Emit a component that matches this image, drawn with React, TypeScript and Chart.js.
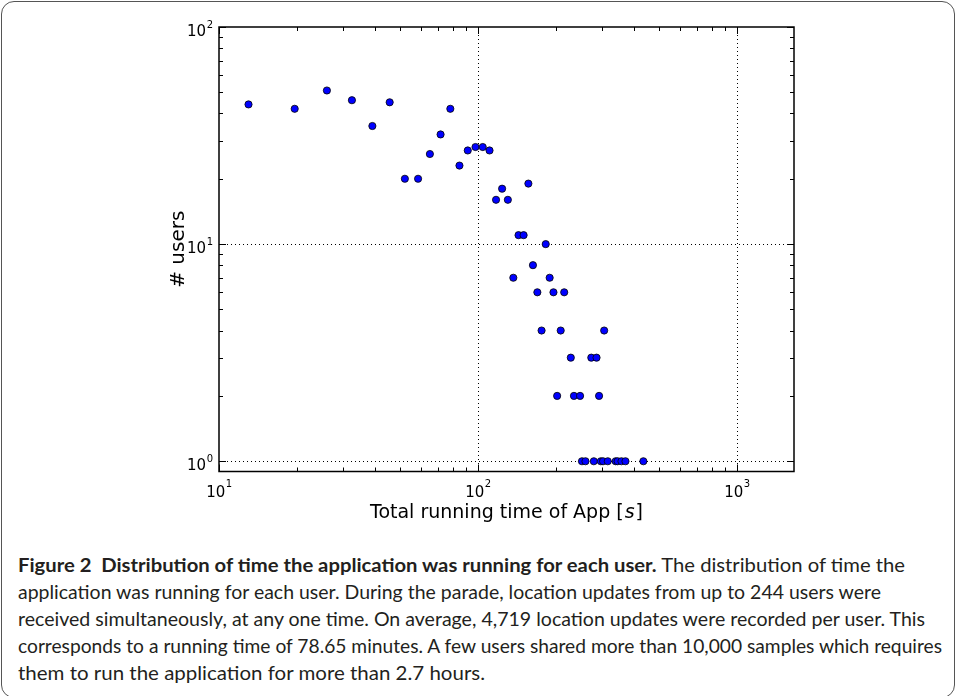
import React, { useEffect, useLayoutEffect, useRef } from "react";
import { Chart, registerables } from "chart.js";

Chart.register(...registerables);

// ---- data ----
const runningTime = [
  13.0, 19.6, 26.1, 32.6, 39.1, 45.6, 52.2, 58.7, 65.2, 71.7,
  78.2, 84.8, 91.3, 97.8, 104.3, 110.8, 117.4, 123.9, 130.4, 136.9,
  143.4, 150.0, 156.5, 163.0, 169.5, 176.0, 182.6, 189.1, 195.6, 202.1,
  208.6, 215.2, 228.2, 234.7, 247.8, 252.0, 260.0, 273.8, 280.0, 286.9,
  293.4, 298.0, 304.0, 307.0, 317.0, 340.0, 346.0, 358.0, 371.0, 435.0,
];
const userCounts = [
  44, 42, 51, 46, 35, 45, 20, 20, 26, 32,
  42, 23, 27, 28, 28, 27, 16, 18, 16, 7,
  11, 11, 19, 8, 6, 4, 10, 7, 6, 2,
  4, 6, 3, 2, 2, 1, 1, 3, 1, 3,
  2, 1, 1, 4, 1, 1, 1, 1, 1, 1,
];
const xTickValues = [10, 100, 1000];
const xTickLabels = ["10^1", "10^2", "10^3"];
const yTickValues = [1, 10, 100];
const yTickLabels = ["10^0", "10^1", "10^2"];
const xRange = [10, 1660];
const yRange = [0.897, 100];
const xTitle = "Total running time of App ";
const xTitleMath = "s";
const yTitle = "# users";

const captionBold = "Figure 2  Distribution of time the application was running for each user.";
const captionLines = [
  " The distribution of time the",
  "application was running for each user. During the parade, location updates from up to 244 users were",
  "received simultaneously, at any one time. On average, 4,719 location updates were recorded per user. This",
  "corresponds to a running time of 78.65 minutes. A few users shared more than 10,000 samples which requires",
  "them to run the application for more than 2.7 hours.",
];
// measured line widths in the reference (px)
const captionWidths = [887, 863, 907, 924, 467];

const CANVAS_W = 956;
const CANVAS_H = 540;
const FONT = '"DejaVu Sans", sans-serif';

function logTicks(min: number, max: number) {
  const out: { v: number; major: boolean }[] = [];
  for (let e = Math.floor(Math.log10(min)); e <= Math.ceil(Math.log10(max)); e++) {
    for (let m = 1; m < 10; m++) {
      const v = m * Math.pow(10, e);
      if (v >= min * 0.9999 && v <= max * 1.0001) out.push({ v, major: m === 1 });
    }
  }
  return out;
}

const mplAxes = {
  id: "mplAxes",
  beforeDatasetsDraw(chart: any) {
    const { ctx, chartArea: a, scales } = chart;
    ctx.save();
    ctx.strokeStyle = "#000";
    ctx.lineWidth = 1;
    ctx.setLineDash([1, 3]);
    for (const v of xTickValues) {
      const p = Math.round(scales.x.getPixelForValue(v)) + 0.5;
      if (p <= a.left + 1 || p >= a.right - 1) continue;
      ctx.beginPath();
      ctx.moveTo(p, a.top);
      ctx.lineTo(p, a.bottom);
      ctx.stroke();
    }
    for (const v of yTickValues) {
      const p = Math.round(scales.y.getPixelForValue(v)) + 0.5;
      if (p <= a.top + 1 || p >= a.bottom - 1) continue;
      ctx.beginPath();
      ctx.moveTo(a.left, p);
      ctx.lineTo(a.right, p);
      ctx.stroke();
    }
    ctx.restore();
  },
  afterDatasetsDraw(chart: any) {
    const { ctx, chartArea: a, scales } = chart;
    ctx.save();
    ctx.setLineDash([]);
    ctx.strokeStyle = "#000";
    ctx.lineWidth = 1;
    for (const t of logTicks(xRange[0], xRange[1])) {
      const p = Math.round(scales.x.getPixelForValue(t.v)) + 0.5;
      const len = t.major ? 7 : 4;
      ctx.beginPath();
      ctx.moveTo(p, a.bottom);
      ctx.lineTo(p, a.bottom - len);
      ctx.moveTo(p, a.top);
      ctx.lineTo(p, a.top + len);
      ctx.stroke();
    }
    for (const t of logTicks(yRange[0], yRange[1])) {
      const p = Math.round(scales.y.getPixelForValue(t.v)) + 0.5;
      const len = t.major ? 7 : 4;
      ctx.beginPath();
      ctx.moveTo(a.left, p);
      ctx.lineTo(a.left + len, p);
      ctx.moveTo(a.right, p);
      ctx.lineTo(a.right - len, p);
      ctx.stroke();
    }
    ctx.lineWidth = 1.5;
    ctx.strokeRect(a.left, a.top, a.right - a.left, a.bottom - a.top);

    ctx.fillStyle = "#000";
    const baseFont = `15px ${FONT}`;
    const expFont = `10px ${FONT}`;
    ctx.textBaseline = "alphabetic";
    xTickValues.forEach((v, i) => {
      const [b, e] = xTickLabels[i].split("^");
      const p = scales.x.getPixelForValue(v);
      ctx.font = baseFont;
      const bw = ctx.measureText(b).width;
      ctx.font = expFont;
      const ew = ctx.measureText(e).width;
      const x0 = p - (bw + ew) / 2;
      ctx.textAlign = "left";
      ctx.font = baseFont;
      ctx.fillText(b, x0, a.bottom + 25);
      ctx.font = expFont;
      ctx.fillText(e, x0 + bw + 0.5, a.bottom + 15);
    });
    yTickValues.forEach((v, i) => {
      const [b, e] = yTickLabels[i].split("^");
      const p = scales.y.getPixelForValue(v);
      ctx.font = expFont;
      const ew = ctx.measureText(e).width;
      const xr = a.left - 6;
      ctx.textAlign = "left";
      ctx.fillText(e, xr - ew, p + 1);
      ctx.font = baseFont;
      const bw = ctx.measureText(b).width;
      ctx.fillText(b, xr - ew - 0.5 - bw, p + 8.5);
    });

    const tf = `19px ${FONT}`;
    const tfi = `italic 19px ${FONT}`;
    ctx.font = tf;
    const w1 = ctx.measureText(xTitle).width;
    const wb = ctx.measureText("[").width;
    const wc = ctx.measureText("]").width;
    ctx.font = tfi;
    const ws = ctx.measureText(xTitleMath).width;
    const total = w1 + wb + ws + wc + 2;
    let x = (a.left + a.right) / 2 - total / 2;
    const yb = a.bottom + 46;
    ctx.font = tf;
    ctx.fillText(xTitle, x, yb);
    x += w1;
    ctx.fillText("[", x, yb);
    x += wb + 1;
    ctx.font = tfi;
    ctx.fillText(xTitleMath, x, yb);
    x += ws + 1;
    ctx.font = tf;
    ctx.fillText("]", x, yb);

    ctx.save();
    ctx.translate(a.left - 35, (a.top + a.bottom) / 2);
    ctx.rotate(-Math.PI / 2);
    ctx.textAlign = "center";
    ctx.textBaseline = "alphabetic";
    ctx.font = `20px ${FONT}`;
    ctx.fillText(yTitle, 0, 0);
    ctx.restore();

    ctx.restore();
  },
};

export default function App() {
  const ref = useRef<HTMLCanvasElement>(null);
  const lineRefs = useRef<(HTMLSpanElement | null)[]>([]);

  useLayoutEffect(() => {
    lineRefs.current.forEach((el, i) => {
      if (!el) return;
      el.style.transform = "none";
      const w = el.getBoundingClientRect().width;
      if (w > 0) el.style.transform = `scaleX(${captionWidths[i] / w})`;
    });
  }, []);

  useEffect(() => {
    if (!ref.current) return;
    const chart = new Chart(ref.current, {
      type: "scatter",
      data: {
        datasets: [
          {
            data: runningTime.map((t, i) => ({ x: t, y: userCounts[i] })),
            pointRadius: 3.6,
            pointBackgroundColor: "#0000ff",
            pointBorderColor: "#000",
            pointBorderWidth: 0.8,
            showLine: false,
          },
        ],
      },
      options: {
        animation: false,
        responsive: false,
        maintainAspectRatio: false,
        events: [],
        layout: { padding: { left: 219, right: CANVAS_W - 794, top: 27, bottom: CANVAS_H - 471.5 } },
        plugins: { legend: { display: false }, tooltip: { enabled: false } },
        scales: {
          x: { type: "logarithmic", min: xRange[0], max: xRange[1], display: false },
          y: { type: "logarithmic", min: yRange[0], max: yRange[1], display: false },
        },
      },
      plugins: [mplAxes],
    } as any);
    return () => chart.destroy();
  }, []);

  const lineStyle: React.CSSProperties = {
    display: "inline-block",
    whiteSpace: "pre",
    transformOrigin: "0 0",
  };

  return (
    <div style={{ position: "fixed", left: 0, top: 0, width: 956, height: 696, overflow: "hidden", background: "#fff" }}>
      <div
        style={{
          position: "absolute",
          left: 1,
          top: 1,
          width: 954,
          height: 697,
          boxSizing: "border-box",
          border: "1px solid #555",
          borderRadius: 13,
        }}
      />
      <canvas
        ref={ref}
        width={CANVAS_W}
        height={CANVAS_H}
        style={{ position: "absolute", left: 0, top: 0, width: CANVAS_W, height: CANVAS_H }}
      />
      <div
        style={{
          position: "absolute",
          left: 18,
          top: 551,
          fontFamily: "Lato, sans-serif",
          fontSize: 19,
          lineHeight: "27px",
          color: "#231f20",
          whiteSpace: "pre",
        }}
      >
        <div style={{ height: 27 }}>
          <span ref={(el) => { lineRefs.current[0] = el; }} style={lineStyle}>
            <b>{captionBold}</b>
            {captionLines[0]}
          </span>
        </div>
        {captionLines.slice(1).map((l, i) => (
          <div key={i} style={{ height: 27 }}>
            <span ref={(el) => { lineRefs.current[i + 1] = el; }} style={lineStyle}>
              {l}
            </span>
          </div>
        ))}
      </div>
    </div>
  );
}
